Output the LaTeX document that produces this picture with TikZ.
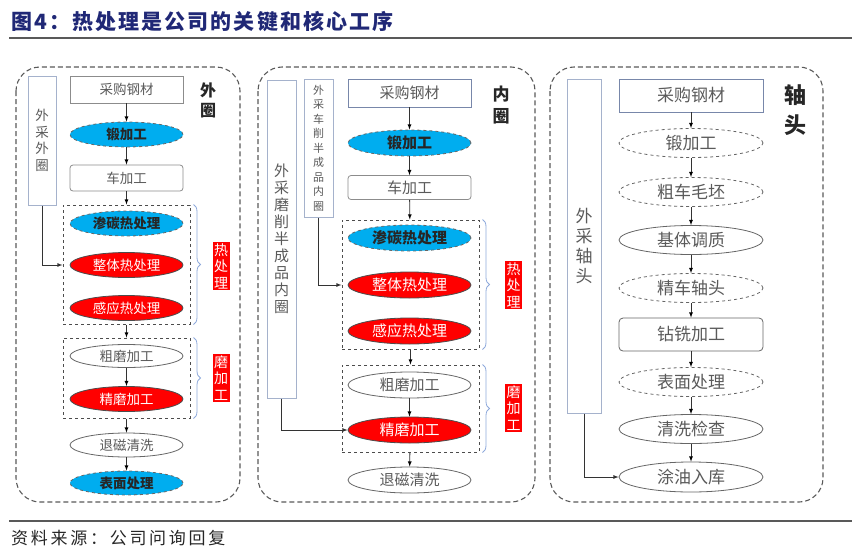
\documentclass[tikz,border=0pt]{standalone}
\usepackage{fontspec}
\newfontfamily\cjk{Noto Sans CJK SC}
\newfontfamily\cjkwide{Noto Sans CJK SC}[LetterSpace=10]
\newfontfamily\cjksrc{Noto Sans CJK SC}[LetterSpace=16]
\usetikzlibrary{arrows,shapes.geometric,decorations.pathreplacing}

\definecolor{titleblue}{RGB}{32,40,118}
\definecolor{sideline}{RGB}{165,178,204}
\definecolor{buyline}{RGB}{120,135,170}
\definecolor{bracecol}{RGB}{142,169,219}
\definecolor{txtgray}{RGB}{90,90,90}

\tikzset{
  panel/.style={draw=black!65, dash pattern=on 5pt off 3pt, line width=1.1pt, rounded corners=24pt},
  grp/.style={draw=black!70, dashed, line width=1pt, inner sep=0pt},
  sidebox/.style={draw=sideline, line width=1pt, fill=white, text=txtgray, align=center, inner sep=0pt},
  stepbox/.style={draw=black!45, line width=0.8pt, fill=white, text=txtgray, inner sep=0pt},
  buybox/.style={stepbox, draw=buyline},
  oval/.style={ellipse, draw=black!60, line width=0.8pt, fill=white, text=txtgray, inner sep=0pt},
  cyanoval/.style={oval, fill=cyan, dashed, text=black!85},
  redoval/.style={oval, fill=red, draw=black!70, text=white},
  dashoval/.style={oval, dashed},
  tag/.style={fill=red, text=white, align=center, inner sep=1.5pt, font=\cjk\fontsize{14}{16.5}\selectfont},
  headtag/.style={text=black!85, align=center, inner sep=0pt},
  brc/.style={draw=bracecol, line width=0.8pt, decorate, decoration={brace, amplitude=7pt}},
  flow/.style={->, >=latex, draw=black!80, line width=0.8pt},
}

\begin{document}
\begin{tikzpicture}[x=1pt, y=-1pt]
  \useasboundingbox (0,0) rectangle (852,552);

  % title and rules
  \node[anchor=west, text=titleblue, inner sep=0pt, font=\cjkwide\bfseries\fontsize{21}{24}\selectfont] (title) at (11,22) {图4：热处理是公司的关键和核心工序};
  \draw[black!65, line width=1.6pt] (9,38) -- (852,38);
  \draw[black!65, line width=1.6pt] (9,521) -- (852,521);
  \node[anchor=west, text=black!85, inner sep=0pt, font=\cjksrc\fontsize{17}{20}\selectfont] (src) at (11,538) {资料来源：公司问询回复};

  % panels
  \draw[panel] (16,67) rectangle (240,502);
  \draw[panel] (258,67) rectangle (535,502);
  \draw[panel] (550,67) rectangle (823,502);

  %% outer ring
  \begin{scope}[font=\cjk\fontsize{13.5}{16}\selectfont, minimum width=113pt]
    \node[stepbox, minimum height=27pt] (lbuy) at (126.5,89.5) {采购钢材};
    \node[cyanoval, minimum height=25pt] (lforge) at (126.5,134.5) {\bfseries 锻加工};
    \node[stepbox, rounded corners=3pt, minimum height=26pt] (lturn) at (126.5,178) {车加工};
    \node[grp, minimum width=127pt, minimum height=119pt] (lheat) at (126.5,264.5) {};
    \node[cyanoval, minimum height=25pt] (lcarb) at (126.5,223.5) {\bfseries 渗碳热处理};
    \node[redoval, minimum height=25pt] (lwhole) at (126.5,265) {整体热处理};
    \node[redoval, minimum height=25pt] (lind) at (126.5,308) {感应热处理};
    \node[grp, minimum width=127pt, minimum height=80pt] (lgrind) at (126.5,378) {};
    \node[oval, minimum height=23pt] (lrough) at (126.5,356) {粗磨加工};
    \node[redoval, minimum height=25pt] (lfine) at (126.5,399) {精磨加工};
    \node[oval, minimum height=24pt] (ldemag) at (126.5,445) {退磁清洗};
    \node[cyanoval, minimum height=24pt] (lsurf) at (126.5,483) {\bfseries 表面处理};
  \end{scope}
  \node[sidebox, minimum width=28pt, minimum height=129pt, font=\cjk\fontsize{13.5}{16.5}\selectfont] (lside) at (42,140.5) {外\\采\\外\\圈};
  \node[headtag, font=\cjk\bfseries\fontsize{16}{20}\selectfont] (lhead) at (208,100) {外\\圈};
  \draw[brc] ([xshift=3pt]lheat.north east) -- ([xshift=3pt]lheat.south east);
  \draw[brc] ([xshift=3pt]lgrind.north east) -- ([xshift=3pt]lgrind.south east);
  \node[tag] (ltag1) at (221,266) {热\\处\\理};
  \node[tag] (ltag2) at (221,378) {磨\\加\\工};
  \path[flow]
    (lbuy) edge (lforge)
    (lforge) edge (lturn)
    (lturn) edge (lheat)
    (lheat) edge (lgrind)
    (lrough) edge (lfine)
    (lgrind) edge (ldemag)
    (ldemag) edge (lsurf);
  \draw[flow] (lside.south) |- (lheat.west |- lwhole);

  %% inner ring
  \begin{scope}[font=\cjk\fontsize{15}{18}\selectfont, minimum width=123pt]
    \node[buybox, minimum height=28pt] (mbuy) at (409.5,93) {采购钢材};
    \node[cyanoval, minimum height=26pt] (mforge) at (409.5,143) {\bfseries 锻加工};
    \node[stepbox, rounded corners=3pt, minimum height=24pt] (mturn) at (409.5,187.5) {车加工};
    \node[grp, minimum width=137pt, minimum height=129pt] (mheat) at (410.5,284.5) {};
    \node[cyanoval, minimum height=26pt] (mcarb) at (409.5,238) {\bfseries 渗碳热处理};
    \node[redoval, minimum height=26pt] (mwhole) at (409.5,285) {整体热处理};
    \node[redoval, minimum height=26pt] (mind) at (409.5,331) {感应热处理};
    \node[grp, minimum width=137pt, minimum height=87pt] (mgrind) at (410.5,408.5) {};
    \node[oval, minimum height=26pt] (mrough) at (409.5,385) {粗磨加工};
    \node[redoval, minimum height=26pt] (mfine) at (409.5,430) {精磨加工};
    \node[oval, minimum height=26pt] (mdemag) at (409.5,480) {退磁清洗};
  \end{scope}
  \node[sidebox, minimum width=29pt, minimum height=318pt, font=\cjk\fontsize{15}{17}\selectfont] (mside1) at (281.5,239) {外\\采\\磨\\削\\半\\成\\品\\内\\圈};
  \node[sidebox, minimum width=29pt, minimum height=138pt, font=\cjk\fontsize{11}{14.5}\selectfont] (mside2) at (318.5,148) {外\\采\\车\\削\\半\\成\\品\\内\\圈};
  \node[headtag, font=\cjk\bfseries\fontsize{17}{22}\selectfont] (mhead) at (501,105) {内\\圈};
  \draw[brc] ([xshift=3pt]mheat.north east) -- ([xshift=3pt]mheat.south east);
  \draw[brc] ([xshift=3pt]mgrind.north east) -- ([xshift=3pt]mgrind.south east);
  \node[tag] (mtag1) at (513.5,285) {热\\处\\理};
  \node[tag] (mtag2) at (513.5,408) {磨\\加\\工};
  \path[flow]
    (mbuy) edge (mforge)
    (mforge) edge (mturn)
    (mturn) edge (mheat)
    (mheat) edge (mgrind)
    (mrough) edge (mfine)
    (mgrind) edge (mdemag);
  \draw[flow] (mside2.south) |- (mheat.west |- mwhole);
  \draw[flow] (mside1.south) |- (mfine.west);

  %% shaft head
  \begin{scope}[font=\cjk\fontsize{17}{20}\selectfont, minimum width=144pt]
    \node[buybox, minimum height=33pt] (rbuy) at (691,95.5) {采购钢材};
    \node[dashoval, minimum height=29pt] (rforge) at (691,143) {锻加工};
    \node[dashoval, minimum height=29pt] (rrough) at (691,192) {粗车毛坯};
    \node[oval, minimum height=29pt] (rquench) at (691,240) {基体调质};
    \node[dashoval, minimum height=29pt] (rfinish) at (691,288) {精车轴头};
    \node[stepbox, draw=black!60, rounded corners=4pt, minimum height=33pt] (rmill) at (691,334.5) {钻铣加工};
    \node[dashoval, minimum height=29pt] (rsurf) at (691,382) {表面处理};
    \node[oval, minimum height=29pt] (rclean) at (691,429) {清洗检查};
    \node[oval, minimum height=30pt] (roil) at (691,477) {涂油入库};
  \end{scope}
  \node[sidebox, minimum width=34pt, minimum height=334pt, font=\cjk\fontsize{17}{20}\selectfont] (rside) at (584,246) {外\\采\\轴\\头};
  \node[headtag, font=\cjk\bfseries\fontsize{22}{30}\selectfont] (rhead) at (795,110) {轴\\头};
  \path[flow]
    (rbuy) edge (rforge)
    (rforge) edge (rrough)
    (rrough) edge (rquench)
    (rquench) edge (rfinish)
    (rfinish) edge (rmill)
    (rmill) edge (rsurf)
    (rsurf) edge (rclean)
    (rclean) edge (roil);
  \draw[flow] (rside.south) |- (roil.west);
\end{tikzpicture}
\end{document}
